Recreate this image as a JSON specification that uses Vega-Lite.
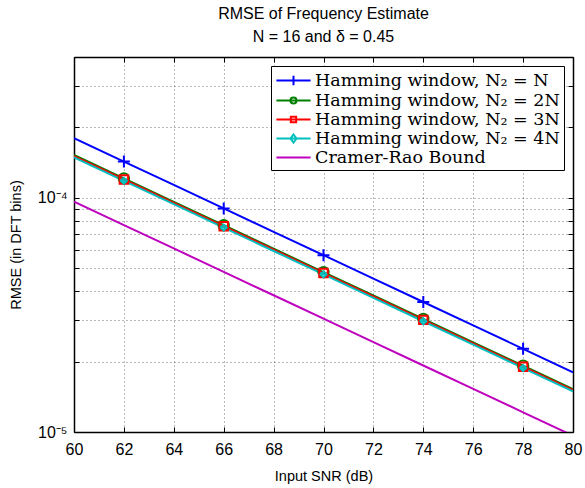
{
  "$schema": "https://vega.github.io/schema/vega-lite/v6.json",
  "width": 499,
  "height": 375,
  "autosize": "none",
  "padding": {"left": 74, "top": 57, "right": 12, "bottom": 56},
  "background": "white",
  "title": {
    "text": ["RMSE of Frequency Estimate", "N = 16 and δ = 0.45"],
    "font": "Liberation Sans",
    "fontSize": 16,
    "fontWeight": "normal",
    "color": "black",
    "offset": 12,
    "lineHeight": 23,
    "anchor": "middle"
  },
  "config": {
    "view": {"stroke": null},
    "axis": {
      "labelFont": "Liberation Sans",
      "titleFont": "Liberation Sans",
      "labelColor": "black",
      "titleColor": "black",
      "labelFontSize": 16,
      "titleFontSize": 14.5,
      "titleFontWeight": "normal",
      "labelFlush": false,
      "domainColor": "black",
      "domainWidth": 1.5,
      "tickColor": "black",
      "tickWidth": 1,
      "tickSize": -5,
      "gridColor": "#000000",
      "gridOpacity": 0.55,
      "gridDash": [1, 3],
      "gridWidth": 1
    }
  },
  "data": {
    "values": [
      {"snr": 60, "series": "N", "rmse": 1.8e-4},
      {"snr": 62, "series": "N", "rmse": 1.430e-4},
      {"snr": 64, "series": "N", "rmse": 1.136e-4},
      {"snr": 66, "series": "N", "rmse": 0.9021e-4},
      {"snr": 68, "series": "N", "rmse": 0.7166e-4},
      {"snr": 70, "series": "N", "rmse": 0.5692e-4},
      {"snr": 72, "series": "N", "rmse": 0.4521e-4},
      {"snr": 74, "series": "N", "rmse": 0.3592e-4},
      {"snr": 76, "series": "N", "rmse": 0.2853e-4},
      {"snr": 78, "series": "N", "rmse": 0.2266e-4},
      {"snr": 80, "series": "N", "rmse": 0.180e-4},
      {"snr": 60, "series": "2N", "rmse": 1.525e-4},
      {"snr": 62, "series": "2N", "rmse": 1.2114e-4},
      {"snr": 64, "series": "2N", "rmse": 0.9622e-4},
      {"snr": 66, "series": "2N", "rmse": 0.7643e-4},
      {"snr": 68, "series": "2N", "rmse": 0.6071e-4},
      {"snr": 70, "series": "2N", "rmse": 0.4822e-4},
      {"snr": 72, "series": "2N", "rmse": 0.3831e-4},
      {"snr": 74, "series": "2N", "rmse": 0.3043e-4},
      {"snr": 76, "series": "2N", "rmse": 0.2417e-4},
      {"snr": 78, "series": "2N", "rmse": 0.1920e-4},
      {"snr": 80, "series": "2N", "rmse": 0.1525e-4},
      {"snr": 60, "series": "3N", "rmse": 1.51e-4},
      {"snr": 62, "series": "3N", "rmse": 1.1994e-4},
      {"snr": 64, "series": "3N", "rmse": 0.9527e-4},
      {"snr": 66, "series": "3N", "rmse": 0.7568e-4},
      {"snr": 68, "series": "3N", "rmse": 0.6011e-4},
      {"snr": 70, "series": "3N", "rmse": 0.4775e-4},
      {"snr": 72, "series": "3N", "rmse": 0.3793e-4},
      {"snr": 74, "series": "3N", "rmse": 0.3013e-4},
      {"snr": 76, "series": "3N", "rmse": 0.2393e-4},
      {"snr": 78, "series": "3N", "rmse": 0.1901e-4},
      {"snr": 80, "series": "3N", "rmse": 0.151e-4},
      {"snr": 60, "series": "4N", "rmse": 1.49e-4},
      {"snr": 62, "series": "4N", "rmse": 1.1836e-4},
      {"snr": 64, "series": "4N", "rmse": 0.9401e-4},
      {"snr": 66, "series": "4N", "rmse": 0.7468e-4},
      {"snr": 68, "series": "4N", "rmse": 0.5932e-4},
      {"snr": 70, "series": "4N", "rmse": 0.4712e-4},
      {"snr": 72, "series": "4N", "rmse": 0.3743e-4},
      {"snr": 74, "series": "4N", "rmse": 0.2973e-4},
      {"snr": 76, "series": "4N", "rmse": 0.2361e-4},
      {"snr": 78, "series": "4N", "rmse": 0.1876e-4},
      {"snr": 80, "series": "4N", "rmse": 0.149e-4},
      {"snr": 60, "series": "CRB", "rmse": 0.964e-4},
      {"snr": 62, "series": "CRB", "rmse": 0.7657e-4},
      {"snr": 64, "series": "CRB", "rmse": 0.6083e-4},
      {"snr": 66, "series": "CRB", "rmse": 0.4831e-4},
      {"snr": 68, "series": "CRB", "rmse": 0.3838e-4},
      {"snr": 70, "series": "CRB", "rmse": 0.3048e-4},
      {"snr": 72, "series": "CRB", "rmse": 0.2421e-4},
      {"snr": 74, "series": "CRB", "rmse": 0.1923e-4},
      {"snr": 76, "series": "CRB", "rmse": 0.1528e-4},
      {"snr": 78, "series": "CRB", "rmse": 0.1214e-4},
      {"snr": 80, "series": "CRB", "rmse": 0.0964e-4}
    ]
  },
  "layer": [
    {
      "mark": {"type": "line", "strokeWidth": 2, "clip": true},
      "encoding": {
        "x": {
          "field": "snr", "type": "quantitative",
          "scale": {"domain": [60, 80], "nice": false, "zero": false},
          "axis": {
            "values": [60, 62, 64, 66, 68, 70, 72, 74, 76, 78, 80],
            "title": "Input SNR (dB)",
            "labelPadding": 14,
            "titlePadding": 12,
            "grid": true
          }
        },
        "y": {
          "field": "rmse", "type": "quantitative",
          "scale": {"type": "log", "domain": [1e-5, 4e-4], "nice": false},
          "axis": {
            "values": [1e-5, 2e-5, 3e-5, 4e-5, 5e-5, 6e-5, 7e-5, 8e-5, 9e-5, 1e-4, 2e-4, 3e-4, 4e-4],
            "labelExpr": "datum.value == 0.0001 ? '10⁻⁴' : datum.value == 0.00001 ? '10⁻⁵' : ''",
            "title": "RMSE (in DFT bins)",
            "labelPadding": 12,
            "titlePadding": 14,
            "grid": true
          }
        },
        "color": {
          "field": "series", "type": "nominal",
          "scale": {
            "domain": ["N", "2N", "3N", "4N", "CRB"],
            "range": ["#0000ff", "#008000", "#ff0000", "#00bfbf", "#bf00bf"]
          },
          "legend": {
            "title": null,
            "orient": "top-right",
            "offset": 9,
            "fillColor": "white",
            "strokeColor": "black",
            "padding": 4,
            "cornerRadius": 0,
            "labelFont": "DejaVu Serif",
            "labelFontSize": 17.5,
            "labelColor": "black",
            "labelLimit": 400,
            "labelOffset": 11,
            "symbolSize": 361,
            "symbolOffset": 8,
            "rowPadding": 0,
            "labelExpr": "datum.label == 'N' ? 'Hamming window, N₂ = N' : datum.label == '2N' ? 'Hamming window, N₂ = 2N' : datum.label == '3N' ? 'Hamming window, N₂ = 3N' : datum.label == '4N' ? 'Hamming window, N₂ = 4N' : 'Cramer-Rao Bound'",
            "encode": {
              "symbols": {
                "update": {
                  "shape": {"signal": "datum.value == 'N' ? 'M-1.8,0H1.8M0,-0.5V0.5' : datum.value == '2N' ? 'M-1.8,0H1.8M0.32,0A0.32,0.32 0 1,1 -0.32,0A0.32,0.32 0 1,1 0.32,0' : datum.value == '3N' ? 'M-1.8,0H1.8M-0.28,-0.28H0.28V0.28H-0.28Z' : datum.value == '4N' ? 'M-1.8,0H1.8M0,-0.42L0.32,0L0,0.42L-0.32,0Z' : 'M-1.8,0H1.8'"},
                  "fill": {"value": "transparent"},
                  "strokeWidth": {"value": 2}
                }
              }
            }
          }
        }
      }
    },
    {
      "transform": [
        {"filter": {"field": "snr", "oneOf": [62, 66, 70, 74, 78]}},
        {"filter": {"field": "series", "oneOf": ["N", "2N", "3N", "4N"]}}
      ],
      "mark": {"type": "point", "filled": false, "strokeWidth": 2, "clip": true, "opacity": 1},
      "encoding": {
        "x": {
          "field": "snr", "type": "quantitative",
          "axis": {"orient": "top", "values": [60, 62, 64, 66, 68, 70, 72, 74, 76, 78, 80], "labels": false, "title": null, "grid": false}
        },
        "y": {
          "field": "rmse", "type": "quantitative",
          "axis": {"orient": "right", "values": [1e-5, 2e-5, 3e-5, 4e-5, 5e-5, 6e-5, 7e-5, 8e-5, 9e-5, 1e-4, 2e-4, 3e-4, 4e-4], "labels": false, "title": null, "grid": false}
        },
        "color": {"field": "series", "type": "nominal", "legend": null},
        "shape": {
          "field": "series", "type": "nominal",
          "scale": {"domain": ["N", "2N", "3N", "4N"], "range": ["M-1,0H1M0,-1V1", "circle", "square", "diamond"]},
          "legend": null
        },
        "size": {
          "field": "series", "type": "nominal",
          "scale": {"domain": ["N", "2N", "3N", "4N"], "range": [144, 36, 20, 70]},
          "legend": null
        }
      }
    }
  ],
  "resolve": {"axis": {"x": "independent", "y": "independent"}}
}
